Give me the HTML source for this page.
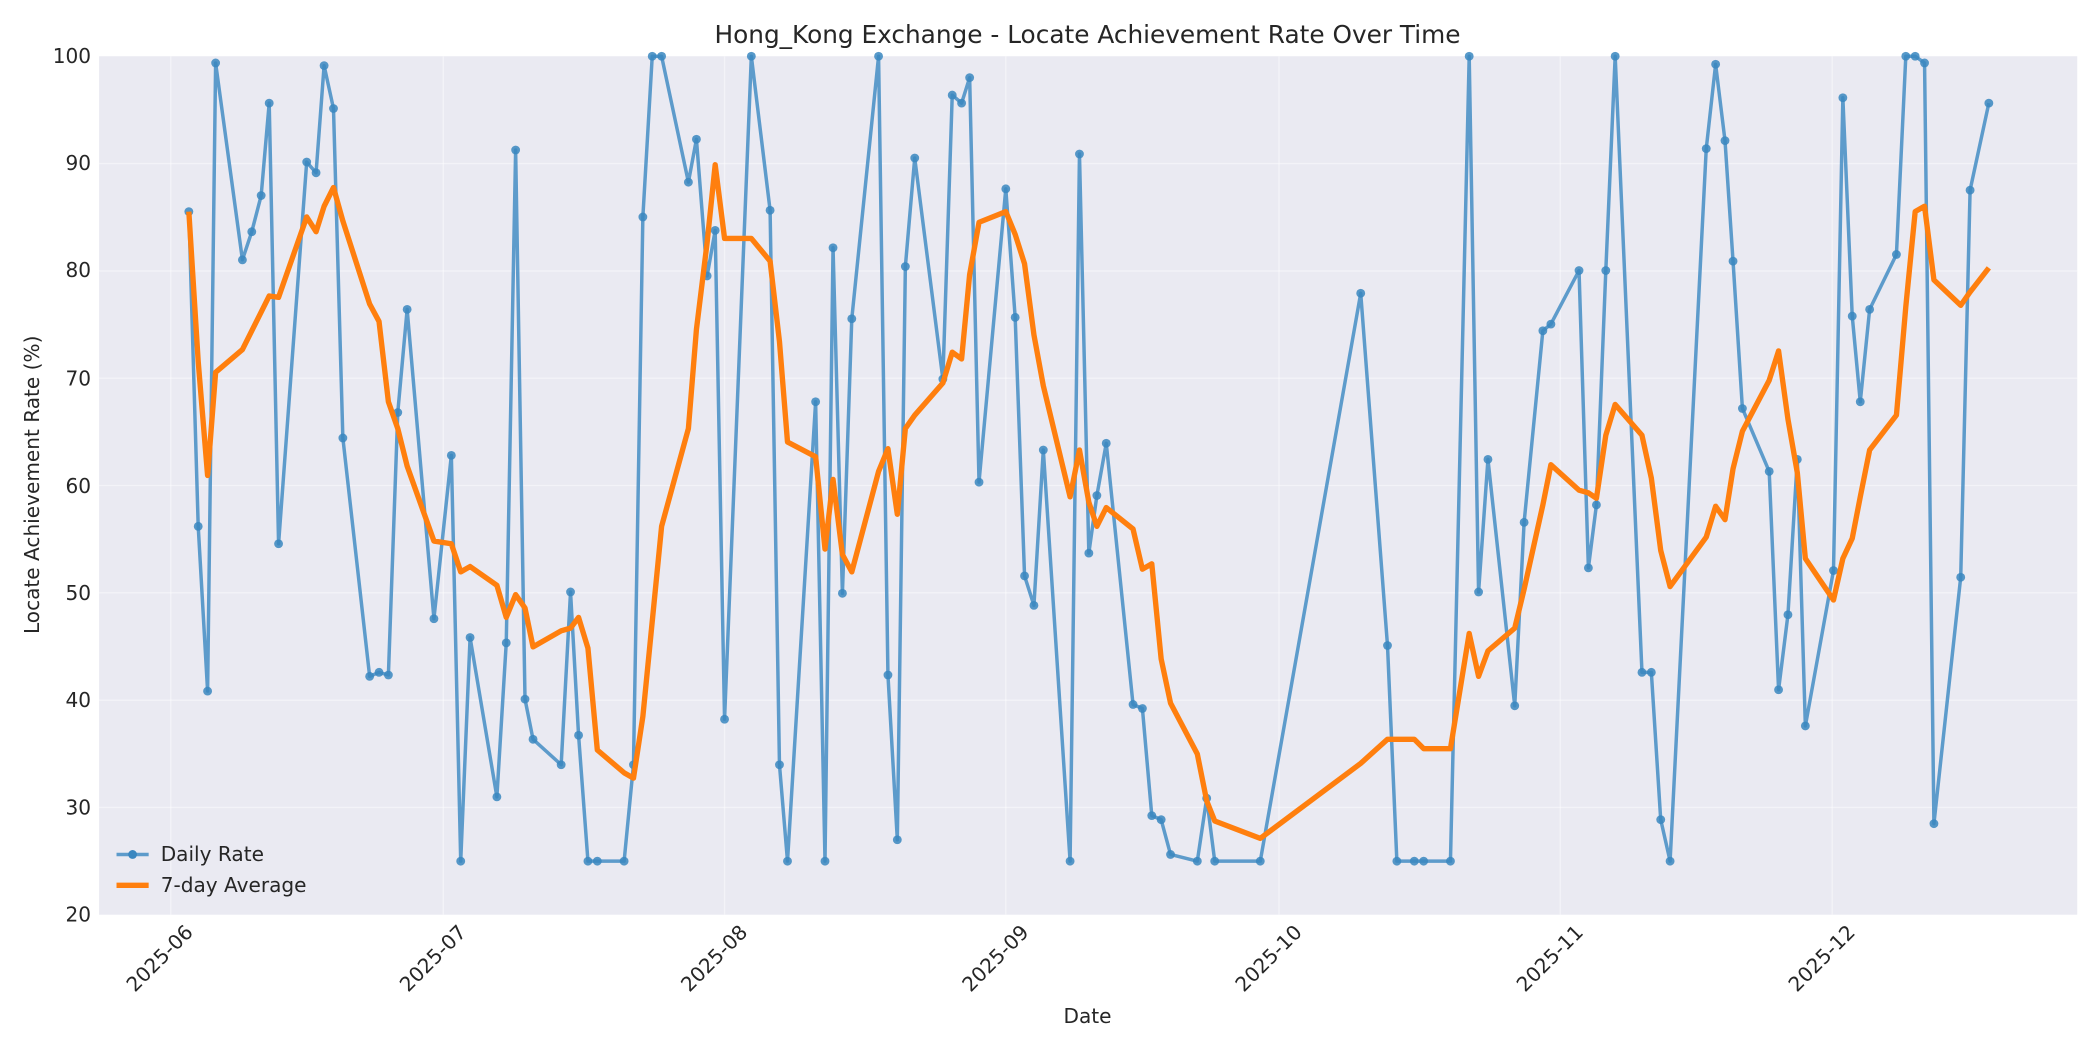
<!DOCTYPE html>
<html><head><meta charset="utf-8"><style>
html,body{margin:0;padding:0;background:#fff}
svg{display:block}
text{font-family:"DejaVu Sans","Liberation Sans",sans-serif;fill:#262626}
</style></head><body>
<svg width="2100" height="1050" viewBox="0 0 1568 784" xmlns="http://www.w3.org/2000/svg">
<rect x="0" y="0" width="1568" height="784" fill="#fff"/>
<rect x="74" y="42" width="1477" height="641" fill="#eaeaf2"/>
<g stroke="#fff" stroke-width="1" stroke-opacity="0.45">
<line x1="74" x2="1551" y1="122.1" y2="122.1"/><line x1="74" x2="1551" y1="202.3" y2="202.3"/>
<line x1="74" x2="1551" y1="282.4" y2="282.4"/><line x1="74" x2="1551" y1="362.5" y2="362.5"/>
<line x1="74" x2="1551" y1="442.6" y2="442.6"/><line x1="74" x2="1551" y1="522.8" y2="522.8"/>
<line x1="74" x2="1551" y1="602.9" y2="602.9"/>
<line y1="42" y2="683" x1="127.5" x2="127.5"/><line y1="42" y2="683" x1="331" x2="331"/>
<line y1="42" y2="683" x1="541" x2="541"/><line y1="42" y2="683" x1="751" x2="751"/>
<line y1="42" y2="683" x1="955" x2="955"/><line y1="42" y2="683" x1="1165" x2="1165"/>
<line y1="42" y2="683" x1="1368" x2="1368"/>
</g>
<g font-size="15" text-anchor="end">
<text x="68" y="47">100</text><text x="68" y="127">90</text><text x="68" y="207">80</text>
<text x="68" y="288">70</text><text x="68" y="368">60</text><text x="68" y="448">50</text>
<text x="68" y="528">40</text><text x="68" y="608">30</text><text x="68" y="688">20</text>
</g>
<g font-size="15" text-anchor="end">
<text transform="translate(145,697) rotate(-45)">2025-06</text>
<text transform="translate(349,697) rotate(-45)">2025-07</text>
<text transform="translate(559,697) rotate(-45)">2025-08</text>
<text transform="translate(769,697) rotate(-45)">2025-09</text>
<text transform="translate(973,697) rotate(-45)">2025-10</text>
<text transform="translate(1183,697) rotate(-45)">2025-11</text>
<text transform="translate(1386,697) rotate(-45)">2025-12</text>
</g>
<text x="812" y="32" font-size="18.5" text-anchor="middle">Hong_Kong Exchange - Locate Achievement Rate Over Time</text>
<text x="812" y="764" font-size="15" text-anchor="middle">Date</text>
<text transform="translate(29,362) rotate(-90)" font-size="15" text-anchor="middle">Locate Achievement Rate (%)</text>
<clipPath id="c"><rect x="74" y="38" width="1477" height="649"/></clipPath>
<g clip-path="url(#c)">
<polyline id="d" fill="none" stroke="#3a87c0" stroke-opacity="0.8" stroke-width="2.6" stroke-linejoin="round" points="141,158 148,393 155,516 161,47 181,194 188,173 195,146 201,77 208,406 229,121 236,129 242,49 249,81 256,327 276,505 283,502 290,504 297,308 304,231 324,462 337,340 344,643 351,476 371,595 378,480 385,112 392,522 398,552 419,571 426,442 432,549 439,643 446,643 466,643 473,571 480,162 487,42 494,42 514,136 520,104 528,206 534,172 541,537 561,42 575,157 582,571 588,643 609,300 616,643 622,185 629,443 636,238 656,42 663,504 670,627 676,199 683,118 704,283 711,71 718,77 724,58 731,360 751,141 758,237 765,430 772,452 779,336 799,643 806,115 813,413 819,370 826,331 846,526 853,529 860,609 867,612 874,638 894,643 901,596 907,643 941,643 1016,219 1036,482 1043,643 1056,643 1063,643 1083,643 1097,42 1104,442 1111,343 1131,527 1138,390 1152,247 1158,242 1179,202 1186,424 1192,377 1199,202 1206,42 1226,502 1233,502 1240,612 1247,643 1274,111 1281,48 1288,105 1294,195 1301,305 1321,352 1328,515 1335,459 1342,343 1348,542 1369,426 1376,73 1383,236 1389,300 1396,231 1416,190 1423,42 1430,42 1437,47 1444,615 1464,431 1471,142 1485,77"/>
<g id="dots" fill="#3a87c0" fill-opacity="0.85"></g>
<polyline fill="none" stroke="#ff7f0e" stroke-width="4" stroke-linejoin="round" points="141,158 148,270 155,355 161,278 181,261 195,233 201,221 208,222 229,162 236,173 242,154 249,140 256,165 276,227 283,240 290,300 297,320 304,348 324,404 337,406 344,427 351,423 371,437 378,461 385,444 392,454 398,483 419,471 426,469 432,461 439,484 446,560 466,577 473,581 480,535 487,464 494,393 514,320 520,246 528,181 534,123 541,178 561,178 575,195 582,255 588,330 609,341 616,410 622,358 629,414 636,427 656,352 663,335 670,384 676,320 683,310 704,286 711,263 718,268 724,205 731,166 751,158 758,175 765,197 772,250 779,288 799,371 806,336 813,375 819,393 826,379 846,395 853,425 860,421 867,492 874,525 894,563 901,598 907,613 941,626 1016,570 1036,552 1056,552 1063,559 1083,559 1097,473 1104,505 1111,486 1131,469 1138,440 1152,377 1158,347 1179,366 1186,368 1192,372 1199,325 1206,302 1226,325 1233,357 1240,411 1247,438 1274,401 1281,378 1288,388 1294,350 1301,322 1321,284 1328,262 1335,313 1342,353 1348,417 1369,448 1376,417 1383,402 1389,371 1396,336 1416,310 1423,229 1430,158 1437,154 1444,209 1464,228 1471,218 1485,200"/>
</g>
<line x1="87" x2="111" y1="638" y2="638" stroke="#3a87c0" stroke-opacity="0.8" stroke-width="2.6"/>
<circle cx="99" cy="638" r="3.3" fill="#3a87c0"/>
<text x="120" y="643" font-size="15">Daily Rate</text>
<line x1="87" x2="111" y1="661" y2="661" stroke="#ff7f0e" stroke-width="4"/>
<text x="120" y="666" font-size="15">7-day Average</text>
<script>
(function(){var p=document.getElementById('d').getAttribute('points').trim().split(/\s+/),g=document.getElementById('dots'),ns='http://www.w3.org/2000/svg';
p.forEach(function(s){var a=s.split(','),c=document.createElementNS(ns,'circle');c.setAttribute('cx',a[0]);c.setAttribute('cy',a[1]);c.setAttribute('r','3.3');g.appendChild(c);});})();
</script>
</svg>
</body></html>
